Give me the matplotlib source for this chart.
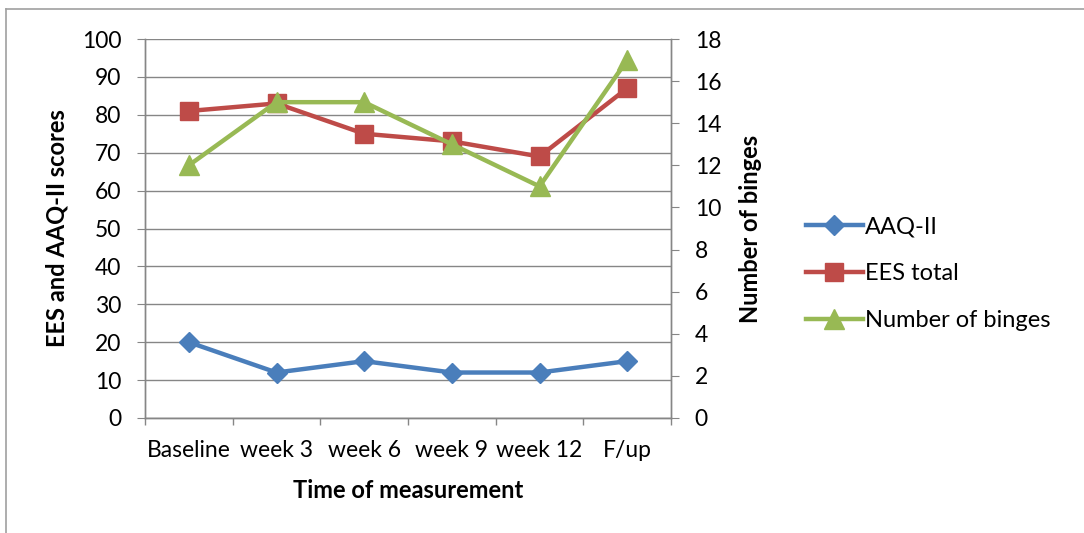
import matplotlib.pyplot as plt
from matplotlib.lines import Line2D

# --- DATA ---
categories = ['Baseline', 'week 3', 'week 6', 'week 9', 'week 12', 'F/up']
aaq = [20, 12, 15, 12, 12, 15]
ees = [81, 83, 75, 73, 69, 87]
binges = [12, 15, 15, 13, 11, 17]

plt.rcParams['font.family'] = ['Lato', 'DejaVu Sans']
grey = '#868686'

fig = plt.figure(figsize=(10.84, 5.33), dpi=100)
ax1 = fig.add_axes([145 / 1084, 115 / 533, 526 / 1084, 379 / 533])
ax2 = ax1.twinx()

x = range(len(categories))

# left axis series
l1, = ax1.plot(x, aaq, color='#4A7EBB', lw=3.2, marker='D', ms=10, label='AAQ-II', zorder=3)
l2, = ax1.plot(x, ees, color='#BE4B48', lw=3.2, marker='s', ms=13, label='EES total', zorder=3)
# right axis series
l3, = ax2.plot(x, binges, color='#98B954', lw=3.2, marker='^', ms=14, label='Number of binges', zorder=3)

ax1.set_xlim(-0.5, len(categories) - 0.5)
ax1.set_ylim(0, 100)
ax1.set_yticks(range(0, 101, 10))
ax2.set_ylim(0, 18)
ax2.set_yticks(range(0, 19, 2))

ax1.set_xticks(list(x))
ax1.set_xticklabels(categories)
ax1.set_xticks([i - 0.5 for i in range(len(categories) + 1)], minor=True)
ax1.tick_params(axis='x', which='major', length=0, labelsize=16.5, pad=16)
ax1.tick_params(axis='x', which='minor', length=5, color=grey, width=1)
ax1.tick_params(axis='y', length=6, color=grey, labelsize=16.5, pad=11)
ax2.tick_params(axis='y', length=6, color=grey, labelsize=16.5, pad=11)

ax1.yaxis.grid(True, color=grey, lw=1)
ax1.set_axisbelow(True)

for ax in (ax1, ax2):
    ax.spines['top'].set_visible(False)
    for s in ('left', 'right', 'bottom'):
        ax.spines[s].set_color(grey)
        ax.spines[s].set_linewidth(1)

ax1.set_ylabel('EES and AAQ-II scores', fontsize=17, fontweight='bold')
ax1.yaxis.label.set(ha='center', va='center', rotation_mode='anchor')
ax1.yaxis.set_label_coords(-0.167, 0.5)
ax2.set_ylabel('Number of binges', fontsize=17, fontweight='bold', labelpad=13)
ax1.set_xlabel('Time of measurement', fontsize=17, fontweight='bold', labelpad=13)

fig.legend(handles=[l1, l2, l3], loc='center left', bbox_to_anchor=(806 / 1084, 1 - 274 / 533),
           frameon=False, fontsize=17, handlelength=2.4, handletextpad=0.1,
           labelspacing=1.1, borderaxespad=0, borderpad=0)

# outer chart frame (left and top edges visible)
fig.add_artist(Line2D([6 / 1084, 6 / 1084], [0, 1 - 9 / 533], color='#a0a0a0', lw=1.2))
fig.add_artist(Line2D([6 / 1084, 1], [1 - 9 / 533, 1 - 9 / 533], color='#a0a0a0', lw=1.2))

fig.savefig('out.png', dpi=100)
